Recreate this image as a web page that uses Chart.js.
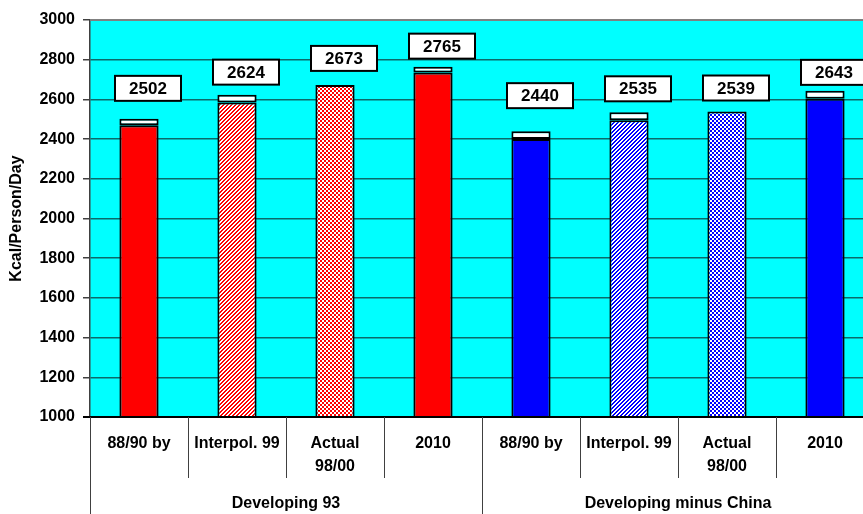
<!DOCTYPE html>
<html>
<head>
<meta charset="utf-8">
<script src="https://cdn.jsdelivr.net/npm/chart.js@4/dist/chart.umd.min.js"></script>
<style>
    html, body { margin: 0; padding: 0; background: #fff; overflow: hidden; }
    #wrap { width: 863px; height: 514px; overflow: hidden; }
</style>
</head>
<body>
<div id="wrap"><canvas id="kcalChart" width="876" height="514"></canvas></div>
<script>
// Data
const categories = ['88/90 by', 'Interpol. 99', 'Actual 98/00', '2010', '88/90 by', 'Interpol. 99', 'Actual 98/00', '2010'];
const groups = ['Developing 93', 'Developing minus China'];
const totals = [2502, 2624, 2673, 2765, 2440, 2535, 2539, 2643];
const baseValues = [2470, 2585, 2673, 2735, 2400, 2495, 2539, 2603];
const capValues = [32, 39, 0, 30, 40, 40, 0, 40];
const yTicks = [1000, 1200, 1400, 1600, 1800, 2000, 2200, 2400, 2600, 2800, 3000];

const FONT = '"Liberation Sans", Arial, sans-serif';

function makePattern(color, kind) {
    const c = document.createElement('canvas');
    c.width = 4; c.height = 4;
    const g = c.getContext('2d');
    g.fillStyle = '#fff';
    g.fillRect(0, 0, 4, 4);
    g.fillStyle = color;
    if (kind === 'diag') {
        // diagonal stripes, 2px on / 2px off
        for (let i = 0; i < 4; i++) {
            g.fillRect(i, 3 - i, 1, 1);
            g.fillRect((i + 1) % 4, 3 - i, 1, 1);
        }
    } else {
        // small checker
        g.fillRect(0, 0, 2, 2);
        g.fillRect(2, 2, 2, 2);
    }
    return g.createPattern(c, 'repeat');
}

const ctx = document.getElementById('kcalChart').getContext('2d');
const RED = '#ff0000', BLUE = '#0000ff';
const barFills = [
    RED, makePattern(RED, 'diag'), makePattern(RED, 'check'), RED,
    BLUE, makePattern(BLUE, 'diag'), makePattern(BLUE, 'check'), BLUE
];

const plotBackground = {
    id: 'plotBackground',
    beforeDraw(chart) {
        const { ctx, chartArea: a } = chart;
        ctx.save();
        ctx.fillStyle = '#00ffff';
        ctx.fillRect(a.left, a.top, a.right - a.left, a.bottom - a.top);
        ctx.restore();
    },
    afterDraw(chart) {
        const { ctx, chartArea: a } = chart;
        const x = chart.scales.x;
        ctx.save();
        // top border
        ctx.strokeStyle = '#808080';
        ctx.lineWidth = 2;
        ctx.beginPath();
        ctx.moveTo(a.left, a.top);
        ctx.lineTo(a.right, a.top);
        ctx.stroke();
        // bottom axis
        ctx.strokeStyle = '#000';
        ctx.lineWidth = 2;
        ctx.beginPath();
        ctx.moveTo(a.left - 7, a.bottom);
        ctx.lineTo(a.right, a.bottom);
        ctx.stroke();

        // category separators and labels
        const n = categories.length;
        const step = (a.right - a.left) / n;
        ctx.strokeStyle = '#404040';
        ctx.lineWidth = 1;
        for (let i = 0; i <= n; i++) {
            const sx = Math.round(a.left + i * step) + 0.5;
            const long = i % 4 === 0;
            ctx.beginPath();
            ctx.moveTo(sx, a.bottom);
            ctx.lineTo(sx, long ? chart.height : a.bottom + 61);
            ctx.stroke();
        }
        ctx.fillStyle = '#000';
        ctx.font = 'bold 16px ' + FONT;
        ctx.textAlign = 'center';
        ctx.textBaseline = 'middle';
        categories.forEach((c, i) => {
            const cx = x.getPixelForValue(i);
            const lines = c.startsWith('Actual') ? ['Actual', '98/00'] : [c];
            lines.forEach((l, j) => ctx.fillText(l, cx, a.bottom + 27 + j * 23));
        });
        groups.forEach((gname, gi) => {
            const cx = a.left + (gi * 4 + 2) * step;
            ctx.fillText(gname, cx, a.bottom + 87);
        });
        ctx.restore();
    }
};

const valueBoxes = {
    id: 'valueBoxes',
    afterDatasetsDraw(chart, args, opts) {
        const { ctx } = chart;
        const meta = chart.getDatasetMeta(1);
        const y = chart.scales.y;
        ctx.save();
        ctx.font = 'bold 17px ' + FONT;
        ctx.textAlign = 'center';
        ctx.textBaseline = 'middle';
        totals.forEach((t, i) => {
            const bar = meta.data[i];
            const top = y.getPixelForValue(t);
            const gap = opts.gaps[i];
            const w = 66, h = 25;
            const cx = bar.x + 9;
            const bottom = top - gap;
            ctx.fillStyle = '#fff';
            ctx.fillRect(cx - w / 2, bottom - h, w, h);
            ctx.strokeStyle = '#000';
            ctx.lineWidth = 2;
            ctx.strokeRect(cx - w / 2, bottom - h, w, h);
            ctx.fillStyle = '#000';
            ctx.fillText(String(t), cx, bottom - h / 2 + 1);
        });
        ctx.restore();
    }
};

new Chart(ctx, {
    type: 'bar',
    data: {
        labels: categories,
        datasets: [
            {
                label: 'base',
                data: baseValues,
                backgroundColor: barFills,
                borderColor: '#000',
                borderWidth: 2,
                borderSkipped: false,
                barPercentage: 0.4,
                categoryPercentage: 1
            },
            {
                label: 'cap',
                data: capValues,
                backgroundColor: '#fff',
                borderColor: '#000',
                borderWidth: 2,
                borderSkipped: false,
                barPercentage: 0.4,
                categoryPercentage: 1
            }
        ]
    },
    options: {
        responsive: false,
        animation: false,
        layout: { padding: { top: 20, right: 2, left: 0, bottom: 0 } },
        plugins: {
            legend: { display: false },
            tooltip: { enabled: false },
            valueBoxes: { gaps: [18, 10, 14, 8, 23, 11, 11, 6] }
        },
        scales: {
            x: {
                stacked: true,
                grid: { display: false },
                border: { display: false },
                ticks: { display: false },
                afterFit(scale) { scale.height = 97; }
            },
            y: {
                stacked: true,
                min: 1000,
                max: 3000,
                afterBuildTicks(scale) { scale.ticks = yTicks.map(v => ({ value: v })); },
                afterFit(scale) { scale.width = 90; },
                ticks: {
                    color: '#000',
                    padding: 8,
                    callback: v => String(v),
                    font: { family: FONT, size: 16, weight: 'bold' }
                },
                grid: {
                    color: '#0b6a6a',
                    lineWidth: 1.5,
                    tickLength: 7,
                    tickColor: '#404040'
                },
                border: { color: '#404040', width: 1.5 },
                title: {
                    display: true,
                    text: 'Kcal/Person/Day',
                    color: '#000',
                    padding: { top: 7, bottom: 0 },
                    font: { family: FONT, size: 16, weight: 'bold' }
                }
            }
        }
    },
    plugins: [plotBackground, valueBoxes]
});
</script>
</body>
</html>
